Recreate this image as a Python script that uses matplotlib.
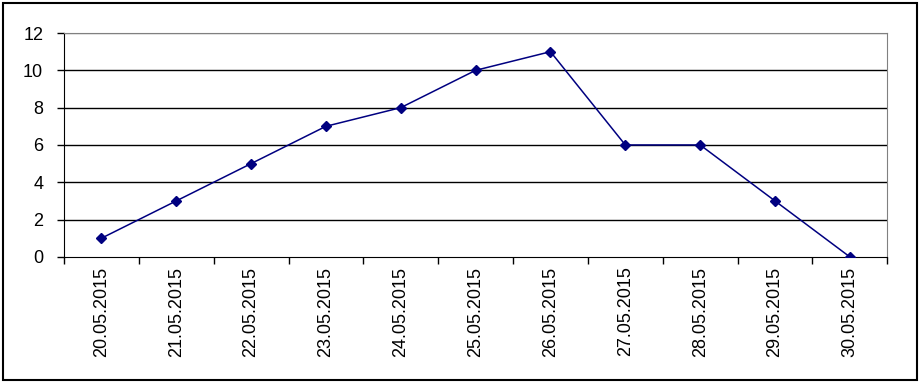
import matplotlib
matplotlib.use("Agg")
import matplotlib.pyplot as plt
from matplotlib.patches import Rectangle

dates = ["20.05.2015", "21.05.2015", "22.05.2015", "23.05.2015", "24.05.2015", "25.05.2015",
         "26.05.2015", "27.05.2015", "28.05.2015", "29.05.2015", "30.05.2015"]
values = [1, 3, 5, 7, 8, 10, 11, 6, 6, 3, 0]

plt.rcParams["font.family"] = ["Liberation Sans", "DejaVu Sans"]
fig = plt.figure(figsize=(9.23, 3.84), dpi=100)
ax = fig.add_axes([0.0693, 0.331, 0.892, 0.583])

x = range(len(dates))
ax.plot(x, values, color="#000080", lw=1.1, marker="D", ms=5.5, zorder=3)

ax.set_xlim(-0.5, len(dates) - 0.5)
ax.set_ylim(0, 12)
ax.set_yticks(range(0, 13, 2))
ax.set_xticks([i + 0.5 for i in range(-1, len(dates))], minor=False)
ax.set_xticklabels([])
ax.set_xticks(list(x), minor=True)
ax.set_xticklabels(dates, minor=True, rotation=90, fontsize=13)
ax.tick_params(axis="x", which="minor", length=0, pad=7)
ax.tick_params(axis="x", which="major", length=5, width=1, direction="out", color="black")
ax.tick_params(axis="y", length=5, width=1, direction="out", labelsize=13, pad=10)
for yv in range(2, 12, 2):
    ax.axhline(yv, color="black", lw=1, zorder=1)
ax.axhline(12, color="#808080", lw=1, zorder=1)

ax.spines["left"].set_color("black")
ax.spines["bottom"].set_color("black")
ax.spines["top"].set_color("#808080")
ax.spines["right"].set_color("#808080")

fig.patches.append(Rectangle((0.003, 0.01), 0.991, 0.983, transform=fig.transFigure,
                             fill=False, edgecolor="black", lw=1.5))
fig.savefig("out.png", dpi=100)
